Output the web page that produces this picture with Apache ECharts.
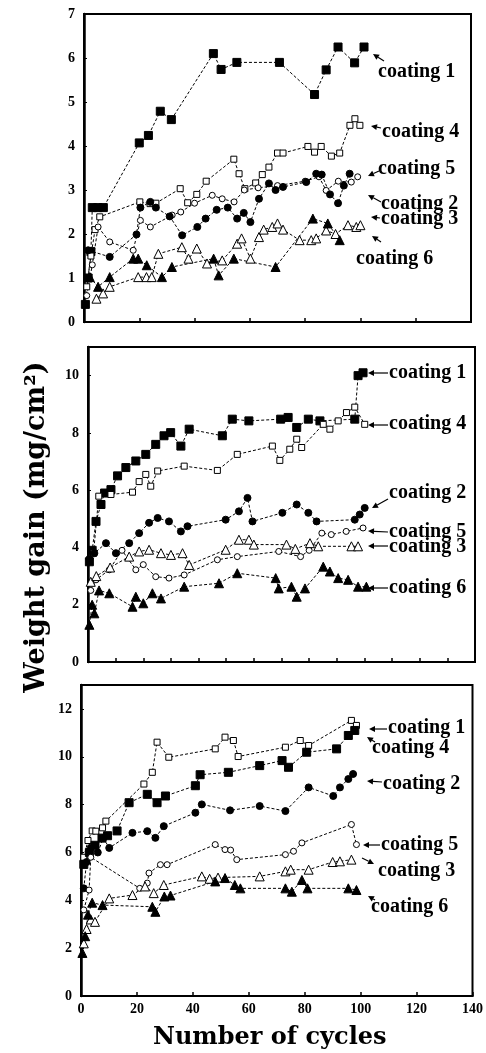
<!DOCTYPE html>
<html>
<head>
<meta charset="utf-8">
<script src="https://cdn.jsdelivr.net/npm/echarts/dist/echarts.min.js"></script>
<style>
  body { margin: 0; background: #fff; }
  #chart { width: 486px; height: 1053px; }
</style>
</head>
<body>
<div id="chart"></div>
<script>
// ---- data: [cycles, weight gain] ----
// top panel
var p1Coating1 = [[0.5,0.4],[1.5,1.0],[2.5,1.6],[3,2.6],[5,2.6],[7,2.6],[20,4.07],[23.3,4.24],[27.6,4.79],[31.6,4.6],[46.8,6.1],[49.6,5.74],[55.3,5.9],[70.7,5.9],[83.4,5.17],[87.6,5.73],[91.9,6.25],[97.9,5.89],[101.3,6.25]];
var p1Coating4 = [[1,0.8],[2.5,1.5],[4,2.1],[5.7,2.39],[20.2,2.73],[23.9,2.69],[26,2.7],[34.8,3.03],[37.5,2.71],[40.8,2.9],[44.2,3.2],[54.2,3.7],[56.1,3.37],[58.2,3.03],[62.1,3.16],[64.5,3.35],[66.9,3.52],[70,3.84],[72,3.84],[81,3.99],[83.4,3.86],[85.8,3.99],[89.5,3.77],[92.5,3.84],[96.2,4.47],[98,4.62],[99.8,4.47]];
var p1Coating5 = [[1,0.6],[3,1.3],[5.1,2.16],[9.3,1.82],[17.8,1.63],[20.4,2.31],[24,2.16],[31.9,2.43],[35,2.5],[40,2.7],[46.4,2.88],[50,2.8],[54.3,2.73],[58,3.0],[63,3.05],[70,3.1],[80,3.2],[85,3.3],[87.6,2.99],[92,3.2],[96.7,3.18],[99,3.3]];
var p1Coating2 = [[1.5,1.63],[9.3,1.48],[19,1.99],[20.4,2.6],[24,2.73],[26,2.6],[31,2.4],[35.5,1.97],[41,2.16],[44,2.35],[48,2.55],[52,2.6],[55.4,2.35],[57.8,2.48],[60.2,2.27],[63.3,2.8],[66.9,3.15],[69.3,3.0],[72,3.07],[80.4,3.18],[84,3.37],[86,3.35],[89,2.9],[91.9,2.7],[94,3.1],[96.1,3.37]];
var p1Coating3 = [[4.5,0.53],[6.9,0.65],[9.3,0.8],[19.6,1.02],[22.6,1.02],[24.5,1.02],[26.9,1.55],[35.4,1.7],[37.8,1.44],[40.8,1.67],[44.5,1.33],[50,1.4],[55.4,1.78],[57,1.9],[60.2,1.44],[63.3,1.93],[65,2.1],[68.1,2.16],[70,2.24],[72,2.1],[78,1.86],[82.2,1.86],[84,1.9],[87.6,2.08],[91,2.0],[95.5,2.2],[98.5,2.16],[100,2.2]];
var p1Coating6 = [[2.1,1.02],[5.1,0.8],[9.3,1.02],[17.8,1.44],[19.6,1.44],[22.7,1.29],[28.2,1.02],[31.8,1.25],[46.9,1.44],[48.7,1.06],[54.2,1.44],[69.3,1.25],[82.8,2.35],[88.2,2.24],[92.5,1.86]];

// middle panel
var p2Coating1 = [[0.5,3.5],[1.5,3.9],[2.9,4.91],[4.7,5.5],[6,5.9],[8.3,6.02],[10.7,6.5],[13.7,6.79],[17.3,7.02],[20.9,7.25],[24.5,7.6],[27.5,7.9],[29.9,8.01],[33.6,7.54],[36.6,8.13],[48.6,7.9],[52.2,8.48],[58.2,8.42],[69.7,8.48],[72.4,8.54],[75.5,8.19],[79.7,8.48],[83.9,8.42],[96.5,8.48],[97.7,10.0],[99.5,10.1]];
var p2Coating4 = [[2,3.8],[3.9,5.79],[8.3,5.85],[16.1,5.93],[18.5,6.3],[20.9,6.55],[22.7,6.14],[25.2,6.67],[34.8,6.84],[46.8,6.69],[54,7.25],[66.7,7.54],[69.4,7.04],[73,7.43],[75.5,7.78],[77.3,7.49],[85.1,8.3],[87.5,8.13],[90.5,8.42],[93.5,8.71],[96.5,8.9],[100.1,8.3]];
var p2Coating2 = [[0.5,3.6],[2.3,3.8],[6.5,4.15],[10.1,3.8],[14.9,4.15],[18.5,4.5],[22.1,4.86],[25.2,5.03],[29.3,4.91],[33.6,4.56],[36,4.74],[49.8,4.97],[54.6,5.26],[57.7,5.73],[59.5,4.91],[70.3,5.21],[75.5,5.5],[79.7,5.21],[82.7,4.91],[96.5,4.97],[98.3,5.15],[100.1,5.38]];
var p2Coating5 = [[1,2.5],[2.9,2.87],[7.7,3.22],[12.3,3.9],[17.3,3.22],[20,3.4],[24.5,2.98],[29.3,2.93],[34.8,3.04],[46.8,3.57],[54,3.68],[69,3.86],[76.9,3.68],[80,3.9],[84.6,4.5],[88,4.45],[93.4,4.56],[99.5,4.68]];
var p2Coating3 = [[1,2.8],[3,3.0],[8,3.3],[14.9,3.68],[18.5,3.86],[22.1,3.92],[26.4,3.8],[30,3.74],[34.2,3.8],[36.6,3.39],[49.8,3.92],[54.6,4.27],[58.2,4.27],[60,4.1],[71.8,4.1],[75,3.95],[80.3,4.15],[83.3,4.04],[95.3,4.04],[97.7,4.04]];
var p2Coating6 = [[0.5,1.3],[1.5,2.0],[2.3,1.7],[4,2.5],[7.7,2.4],[16.1,1.93],[17.3,2.28],[20,2.05],[23.3,2.4],[26.4,2.22],[34.8,2.63],[47.4,2.75],[54,3.1],[67.9,2.93],[69,2.57],[73.6,2.63],[75.5,2.28],[78.5,2.57],[85.1,3.33],[87.5,3.16],[90.5,2.93],[94.1,2.87],[97.7,2.63],[100.7,2.63]];

// bottom panel
var p3Coating1 = [[1,5.8],[2.5,6.5],[4,6.9],[5.3,6.89],[7.7,7.03],[8.9,7.31],[22.5,8.86],[25.5,9.35],[27.2,10.61],[31.4,9.98],[48,10.33],[51.5,10.82],[54.5,10.68],[56.2,10.01],[73.1,10.4],[78.4,10.68],[81.4,10.47],[96.7,11.52],[98.5,11.31]];
var p3Coating4 = [[1,5.5],[3,6.0],[5,6.3],[7.5,6.6],[9.5,6.7],[12.9,6.9],[17.2,8.08],[23.7,8.43],[27.2,8.08],[30.2,8.36],[40.9,8.79],[42.6,9.25],[52.7,9.35],[63.9,9.63],[71.9,9.84],[74.2,9.56],[80.7,10.19],[91.4,10.33],[95.6,10.89],[97.9,11.1]];
var p3Coating2 = [[1,4.5],[2,5.6],[3.5,6.2],[6,6.0],[8,6.6],[10.1,6.19],[18.4,6.82],[23.7,6.89],[26.6,6.61],[29.6,7.1],[40.9,7.66],[43.2,8.01],[53.3,7.76],[63.9,7.94],[73.1,7.73],[81.4,8.72],[90.2,8.36],[92.6,8.72],[95.6,9.07],[97.3,9.28]];
var p3Coating5 = [[1,3.6],[2.9,4.43],[3.5,5.8],[21,4.5],[23.7,4.72],[24.3,5.14],[28.4,5.49],[30.8,5.49],[48,6.33],[51.5,6.12],[53.5,6.1],[55.7,5.7],[73.1,5.91],[76,6.05],[79,6.4],[96.7,7.17],[98.5,6.33]];
var p3Coating3 = [[1,2.2],[2,2.8],[3.5,3.2],[5,3.1],[10.1,4.08],[18.4,4.22],[22.9,4.58],[26,4.3],[29.6,4.64],[43.2,5.0],[46,4.9],[49,4.95],[63.9,5.0],[73.1,5.21],[75,5.28],[81.4,5.28],[90,5.6],[92.6,5.63],[96.7,5.7]];
var p3Coating6 = [[0.5,1.8],[1.5,2.5],[2.5,3.4],[4,3.9],[7.7,3.8],[25.5,3.73],[26.6,3.52],[29.8,4.16],[32,4.2],[48,4.79],[51.5,4.93],[55,4.64],[57,4.5],[73.1,4.5],[75.4,4.36],[79,4.85],[81,4.5],[95.6,4.5],[98.5,4.43]];

var dom = document.getElementById("chart");
var myChart = echarts.init(dom);

var SERIF = '"Liberation Serif", "DejaVu Serif", serif';

// marker kinds
var FILL_SQ  = {symbol: 'rect', symbolSize: 8, fill: '#000'};
var OPEN_SQ  = {symbol: 'rect', symbolSize: 6, fill: '#fff'};
var FILL_CI  = {symbol: 'circle', symbolSize: 7, fill: '#000'};
var OPEN_CI  = {symbol: 'circle', symbolSize: 6, fill: '#fff'};
var FILL_TR  = {symbol: 'triangle', symbolSize: 9, fill: '#000'};
var OPEN_TR  = {symbol: 'triangle', symbolSize: 9, fill: '#fff'};

function line(idx, name, data, mk) {
    return {
        name: name,
        type: 'line',
        xAxisIndex: idx,
        yAxisIndex: idx,
        data: data,
        symbol: mk.symbol,
        symbolSize: mk.symbolSize,
        showAllSymbol: true,
        itemStyle: {color: mk.fill, borderColor: '#000', borderWidth: 1},
        lineStyle: {color: '#000', width: 1, type: [3, 2]},
        animation: false
    };
}

// arrow from (x1,y1) to tip (x2,y2), pixels of the annotation only
function arrow(x1, y1, x2, y2) {
    var a = Math.atan2(y2 - y1, x2 - x1), L = 6, W = 3;
    var bx = x2 - L * Math.cos(a), by = y2 - L * Math.sin(a);
    var px = -Math.sin(a) * W, py = Math.cos(a) * W;
    return [
        {type: 'line', shape: {x1: x1, y1: y1, x2: bx, y2: by}, style: {stroke: '#000', lineWidth: 1.2}},
        {type: 'polygon', shape: {points: [[x2, y2], [bx + px, by + py], [bx - px, by - py]]}, style: {fill: '#000'}}
    ];
}
function label(x, y, txt) {
    return {type: 'text', x: x, y: y,
        style: {text: txt, font: 'bold 20px ' + SERIF, fill: '#000',
                textVerticalAlign: 'middle', verticalAlign: 'middle'}};
}

var grids = [
    {left: 84, top: 14, width: 387, height: 308},
    {left: 88, top: 347, width: 387, height: 315},
    {left: 81, top: 685, width: 394, height: 311}
];
grids.forEach(function (g) {
    g.show = true; g.borderColor = '#000'; g.borderWidth = 2; g.containLabel = false;
});

function xAxis(i, interval, showLabel) {
    return {
        gridIndex: i, type: 'value', min: 0, max: 140, interval: interval,
        axisLine: {lineStyle: {color: '#000', width: 2}},
        axisTick: {inside: true, length: 4, lineStyle: {color: '#000', width: 1.5}},
        axisLabel: {show: showLabel, color: '#000', fontFamily: SERIF, fontWeight: 'bold', fontSize: 14, margin: 6},
        splitLine: {show: false},
        name: showLabel ? 'Number of cycles' : '',
        nameLocation: 'middle', nameGap: 30,
        nameTextStyle: {color: '#000', fontFamily: '"DejaVu Serif", serif', fontWeight: 'bold', fontSize: 24,
                        padding: [0, 14, 0, 0]}
    };
}
function yAxis(i, max, interval) {
    return {
        gridIndex: i, type: 'value', min: 0, max: max, interval: interval,
        axisLine: {lineStyle: {color: '#000', width: 2.5}},
        axisTick: {inside: true, length: 3, lineStyle: {color: '#000', width: 1}},
        axisLabel: {color: '#000', fontFamily: SERIF, fontWeight: 'bold', fontSize: 14, margin: 9,
                    showMaxLabel: max % interval === 0},
        splitLine: {show: false}
    };
}

var graphics = [
    {type: 'text', x: 37, y: 527, rotation: Math.PI / 2,
     style: {text: 'Weight gain (mg/cm\u00b2)', font: 'bold 27px "DejaVu Serif", serif', fill: '#000',
             textAlign: 'center', textVerticalAlign: 'middle', verticalAlign: 'middle'}},
    // top panel labels
    label(378, 72, 'coating 1'), label(382, 132, 'coating 4'), label(378, 169, 'coating 5'),
    label(381, 204, 'coating 2'), label(381, 219, 'coating 3'), label(356, 259, 'coating 6'),
    // middle panel labels
    label(389, 373, 'coating 1'), label(389, 424, 'coating 4'), label(389, 493, 'coating 2'),
    label(389, 532, 'coating 5'), label(389, 547, 'coating 3'), label(389, 588, 'coating 6'),
    // bottom panel labels
    label(388, 728, 'coating 1'), label(372, 748, 'coating 4'), label(383, 784, 'coating 2'),
    label(381, 845, 'coating 5'), label(378, 871, 'coating 3'), label(371, 907, 'coating 6')
];
graphics = graphics.concat(
    arrow(384, 61, 373, 54), arrow(381, 128, 371, 126), arrow(379, 171, 368, 176),
    arrow(381, 202, 368, 195), arrow(380, 218, 371, 217), arrow(381, 242, 372, 236),
    arrow(388, 373, 368, 373), arrow(388, 425, 368, 425), arrow(388, 499, 372, 508),
    arrow(388, 532, 368, 531), arrow(388, 546, 368, 546), arrow(388, 588, 368, 588),
    arrow(387, 729, 369, 729), arrow(375, 742, 367, 737), arrow(382, 782, 367, 781),
    arrow(380, 845, 363, 845), arrow(362, 858, 374, 864), arrow(375, 900, 368, 896)
);

var option = {
    backgroundColor: '#fff',
    animation: false,
    grid: grids,
    xAxis: [xAxis(0, 20, false), xAxis(1, 10, false), xAxis(2, 20, true)],
    yAxis: [yAxis(0, 7, 1), yAxis(1, 11, 2), yAxis(2, 13, 2)],
    graphic: graphics,
    series: [
        line(0, 'coating 1', p1Coating1, FILL_SQ),
        line(0, 'coating 4', p1Coating4, OPEN_SQ),
        line(0, 'coating 5', p1Coating5, OPEN_CI),
        line(0, 'coating 2', p1Coating2, FILL_CI),
        line(0, 'coating 3', p1Coating3, OPEN_TR),
        line(0, 'coating 6', p1Coating6, FILL_TR),

        line(1, 'coating 1', p2Coating1, FILL_SQ),
        line(1, 'coating 4', p2Coating4, OPEN_SQ),
        line(1, 'coating 2', p2Coating2, FILL_CI),
        line(1, 'coating 5', p2Coating5, OPEN_CI),
        line(1, 'coating 3', p2Coating3, OPEN_TR),
        line(1, 'coating 6', p2Coating6, FILL_TR),

        line(2, 'coating 1', p3Coating1, OPEN_SQ),
        line(2, 'coating 4', p3Coating4, FILL_SQ),
        line(2, 'coating 2', p3Coating2, FILL_CI),
        line(2, 'coating 5', p3Coating5, OPEN_CI),
        line(2, 'coating 3', p3Coating3, OPEN_TR),
        line(2, 'coating 6', p3Coating6, FILL_TR)
    ]
};

if (option && typeof option === "object") {
    myChart.setOption(option, true);
}
</script>
</body>
</html>
